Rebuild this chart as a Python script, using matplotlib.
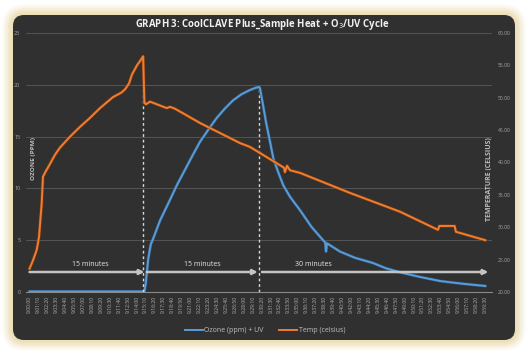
import numpy as np
import matplotlib
matplotlib.use('Agg')
import matplotlib.pyplot as plt
from matplotlib.patches import FancyBboxPatch
import matplotlib.patheffects as pe

# ---------------- data ----------------
# time in minutes after 9:00:00
temp_t = [0.0, 0.46, 0.94, 1.24, 1.59, 1.76, 2.10, 2.45, 3.33, 3.98, 5.29, 6.59, 7.90, 9.20,
          10.90, 12.00, 12.47, 12.99, 13.38, 14.03, 14.50, 14.83, 15.00, 15.21, 15.73, 16.38,
          17.91, 18.34, 19.00, 22.26, 27.48, 28.79, 33.22, 33.35, 33.62, 34.01, 35.31, 41.84,
          48.37, 53.33, 53.50, 55.50, 55.67, 59.50]
temp_c = [23.6, 24.9, 26.5, 28.5, 33.7, 37.8, 38.6, 39.3, 41.2, 42.3, 44.0, 45.5, 46.9, 48.4,
          50.1, 50.8, 51.3, 52.2, 53.6, 55.0, 55.8, 56.4, 49.2, 49.0, 49.4, 49.1,
          48.4, 48.6, 48.3, 46.1, 43.0, 42.4, 39.2, 38.5, 39.5, 38.8, 38.4, 35.3,
          32.4, 29.6, 30.2, 30.2, 29.3, 28.0]

ozone_t = [0.0, 5.0, 10.0, 15.00, 15.17, 15.50, 15.83, 16.12, 17.04, 18.34, 19.30, 20.30,
           21.30, 22.26, 23.56, 24.44, 25.50, 26.57, 27.70, 28.79, 29.50, 30.00, 30.10,
           30.45, 30.90, 31.40, 31.83, 32.50, 33.13, 34.00, 35.31, 36.80, 38.32, 38.60,
           38.71, 38.84, 40.54, 42.50, 44.84, 46.50, 48.37, 51.00, 53.59, 56.50, 59.50]
ozone_ppm = [0.05, 0.05, 0.05, 0.05, 0.8, 3.2, 4.6, 5.1, 6.9, 8.9, 10.4, 11.8,
             13.2, 14.5, 15.9, 16.8, 17.7, 18.5, 19.1, 19.5, 19.7, 19.8, 19.6,
             18.2, 16.3, 14.5, 12.9, 11.5, 10.3, 9.2, 7.9, 6.3, 5.0, 4.8,
             3.9, 4.7, 3.9, 3.3, 2.8, 2.3, 1.9, 1.45, 1.06, 0.8, 0.58]

tick_labels = ['9:00:00', '9:01:10', '9:02:20', '9:03:30', '9:04:40', '9:05:50', '9:07:00',
               '9:08:10', '9:09:20', '9:10:30', '9:11:40', '9:12:50', '9:14:00', '9:15:10',
               '9:16:20', '9:17:30', '9:18:40', '9:19:50', '9:21:00', '9:22:10', '9:23:20',
               '9:24:30', '9:25:40', '9:26:50', '9:28:00', '9:29:10', '9:30:20', '9:31:30',
               '9:32:40', '9:33:50', '9:35:00', '9:36:10', '9:37:20', '9:38:30', '9:39:40',
               '9:40:50', '9:42:00', '9:43:10', '9:44:20', '9:45:30', '9:46:40', '9:47:50',
               '9:49:00', '9:50:10', '9:51:20', '9:52:30', '9:53:40', '9:54:50', '9:56:00',
               '9:57:10', '9:58:20', '9:59:30']
tick_step_min = 70 / 60

phase_labels = ['15 minutes', '15 minutes', '30 minutes']
phase_start = [0.0, 15.3, 30.35]
phase_end = [15.0, 29.8, 59.9]
phase_text_x = [7.9, 22.5, 37.1]

left_ticks = [0, 5, 10, 15, 20, 25]
right_ticks = [20, 25, 30, 35, 40, 45, 50, 55, 60]

BLUE = '#5b9bd5'
ORANGE = '#ed7d31'
FONT = ['Open Sans', 'DejaVu Sans']

W, H = 528, 355
fig = plt.figure(figsize=(W / 100, H / 100), dpi=100)
fig.patch.set_facecolor('white')

# ---------------- background panel ----------------
bg = fig.add_axes([0, 0, 1, 1])
bg.set_zorder(-5)
bg.axis('off')
for pad, alpha in [(11, 0.10), (9, 0.18), (7, 0.28), (5, 0.45), (3, 0.7), (1.5, 0.9)]:
    bg.add_patch(FancyBboxPatch((13 - pad, 15 - pad), 502 + 2 * pad, 325 + 2 * pad,
                                boxstyle=f"round,pad=0,rounding_size={12 + pad}",
                                fc='#eddfb8', ec='none', alpha=alpha))
panel = FancyBboxPatch((13, 15), 502, 325, boxstyle="round,pad=0,rounding_size=11",
                       fc='#303030', ec='none')
bg.add_patch(panel)
yy, xx = np.mgrid[0:1:200j, 0:1:300j]
d = np.sqrt(((xx - 0.5) / 0.75) ** 2 + ((yy - 0.42) / 0.75) ** 2)
val = 0.27 - 0.13 * d
im = bg.imshow(val, cmap='gray', vmin=0, vmax=1, extent=(13, 515, 340, 15),
               aspect='auto', interpolation='bilinear')
im.set_clip_path(panel)
bg.set_xlim(0, W)
bg.set_ylim(H, 0)

# ---------------- main axes ----------------
ax = fig.add_axes([26 / W, 1 - 292 / H, 466 / W, 259 / H])
ax.patch.set_alpha(0)
ax2 = ax.twinx()
ax2.patch.set_alpha(0)

ax.set_xlim(-0.46, 60.38)
ax.set_ylim(0, 25)
ax2.set_ylim(20, 60)

for a in (ax, ax2):
    for s in a.spines.values():
        s.set_visible(False)
ax.spines['bottom'].set_visible(True)
ax.spines['bottom'].set_color('#8a8a8a')
ax.spines['bottom'].set_linewidth(0.8)

ax.set_yticks(left_ticks)
ax.set_yticklabels([str(v) for v in left_ticks])
ax.yaxis.grid(True, color='#5a5a5a', lw=0.6)
ax.set_axisbelow(True)
ax2.set_yticks(right_ticks)
ax2.set_yticklabels([f'{v:.2f}' for v in right_ticks])

xt = np.arange(len(tick_labels)) * tick_step_min
ax.set_xticks(xt)
ax.set_xticklabels(tick_labels, rotation=90)

ax.tick_params(axis='y', length=0, labelsize=4, labelcolor='#a6a6a6', pad=4)
ax2.tick_params(axis='y', length=0, labelsize=3.6, labelcolor='#a6a6a6', pad=4)
ax.tick_params(axis='x', length=0, labelsize=3.6, labelcolor='#b0b0b0', pad=2.5)
for lab in ax.get_xticklabels() + ax.get_yticklabels() + ax2.get_yticklabels():
    lab.set_fontfamily(FONT)

# dashed phase markers
i_tmax = int(np.argmax(temp_c))
ax2.vlines(temp_t[i_tmax], 20, temp_c[i_tmax], colors='#d8d8d8', lw=1.0,
           linestyles=(0, (2, 2)), zorder=2)
i_omax = int(np.argmax(ozone_ppm))
ax.vlines(ozone_t[i_omax], 0, ozone_ppm[i_omax], colors='#d8d8d8', lw=1.0,
          linestyles=(0, (2, 2)), zorder=2)

# series
l1, = ax.plot(ozone_t, ozone_ppm, color=BLUE, lw=1.4, zorder=4,
              path_effects=[pe.Stroke(linewidth=2.2, foreground='#2c5478'), pe.Normal()])
l2, = ax2.plot(temp_t, temp_c, color=ORANGE, lw=1.4, zorder=4,
               path_effects=[pe.Stroke(linewidth=2.2, foreground='#7d3a12'), pe.Normal()])

# phase arrows
arrow_y = 1.93
for s, e, txt, tx in zip(phase_start, phase_end, phase_labels, phase_text_x):
    ax.annotate('', xy=(e, arrow_y), xytext=(s, arrow_y),
                arrowprops=dict(arrowstyle='-|>', color='#c4c4c4', lw=1.8,
                                mutation_scale=7, shrinkA=0, shrinkB=0), zorder=5)
    ax.text(tx, 2.65, txt, color='#e6e6e6', fontsize=5, ha='center', va='center',
            family=FONT, zorder=5)

# axis titles
ax.text((33 - 26) / 466, (292 - 158) / 259, 'OZONE (PPM)', rotation=90, transform=ax.transAxes,
        color='#bdbdbd', fontsize=4.6, fontweight='bold', ha='center', va='center', family=FONT)
ax.text((490 - 26) / 466, (292 - 179) / 259, 'TEMPERATURE (CELSIUS)', rotation=90,
        transform=ax.transAxes, color='#bdbdbd', fontsize=5, fontweight='bold',
        ha='center', va='center', family=FONT, zorder=6)

# title
fig.text(262.5 / W, 1 - 25 / H, 'GRAPH 3: CoolCLAVE Plus_Sample Heat + O$_3$/UV Cycle',
         color='#f0f0f0', fontsize=6.9, fontweight='bold', ha='center', va='center', family=FONT)

# legend
leg = fig.legend([l1, l2], ['Ozone (ppm) + UV', 'Temp (celsius)'], loc='center',
                 bbox_to_anchor=(265 / W, 1 - 331 / H), ncol=2, frameon=False,
                 prop={'family': FONT, 'size': 5}, labelcolor='#bfbfbf',
                 handlelength=2.6, columnspacing=2.2, handletextpad=0.2)
for h in leg.legend_handles:
    h.set_path_effects([])
    h.set_linewidth(1.4)

fig.savefig('out.png', dpi=100, facecolor='white')
